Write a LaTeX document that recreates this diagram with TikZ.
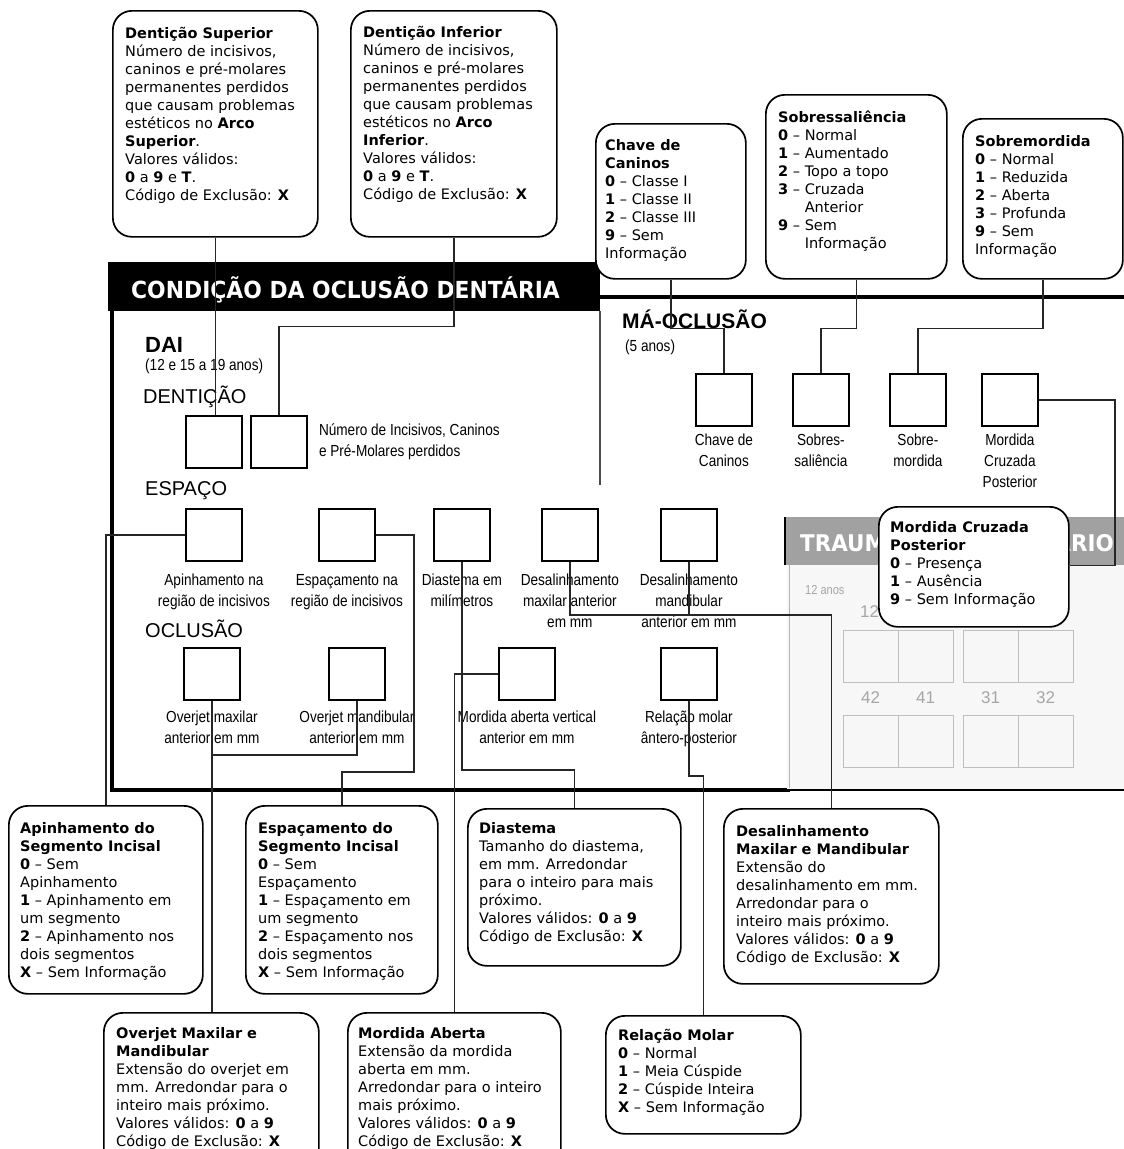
\documentclass[tikz,border=0pt]{standalone}
\usepackage{fontspec}
\setmainfont{DejaVu Sans}
\newfontfamily\arialfont{Liberation Sans}
\newfontfamily\narrowfont[FakeStretch=0.85]{Liberation Sans}
\newfontfamily\headfont[FakeStretch=0.93]{DejaVu Sans}
\usetikzlibrary{positioning}

\begin{document}
\begin{tikzpicture}[x=1pt, y=-1pt]
	\tikzstyle{infobox} = [draw=black, line width=1.7pt, rounded corners=19pt, fill=white, anchor=north west, inner sep=0pt]
	\tikzstyle{infotext} = [align=left, inner sep=0pt, font=\fontsize{14.5}{18}\selectfont]
	\tikzstyle{cell} = [draw=black, line width=1.8pt, fill=white, anchor=north west, minimum width=56pt, minimum height=52pt, inner sep=0pt]
	\tikzstyle{celltext} = [align=center, inner sep=0pt, font=\narrowfont\fontsize{16}{21}\selectfont]
	\tikzstyle{link} = [draw=black!85, line width=1.5pt]
	\tikzstyle{section} = [anchor=base west, inner sep=0pt, font=\arialfont\fontsize{20}{24}\selectfont]
	\tikzstyle{tooth} = [draw=black!25, line width=1.2pt, anchor=north west, minimum width=55pt, minimum height=52pt, inner sep=0pt]
	\tikzstyle{toothnum} = [anchor=base, inner sep=0pt, text=black!35, font=\arialfont\fontsize{17}{20}\selectfont]
	\tikzstyle{headtext} = [anchor=base west, inner sep=0pt, text=white, font=\headfont\bfseries\fontsize{23.5}{28}\selectfont]

	\useasboundingbox (0,0) rectangle (1124,1149);
	\clip (0,0) rectangle (1124,1149);

	% frame of the form
	\node[fill=black, anchor=north west, minimum width=492pt, minimum height=49pt, inner sep=0pt] (hbar) at (108,262) {};
	\node[headtext] (htitle) at (131,298) {CONDIÇÃO DA OCLUSÃO DENTÁRIA};
	\draw[line width=4.5pt] (112,311) -- (112,790) -- (790,790);
	\draw[line width=4pt] (600,297) -- (1124,297);
	\draw[black!70, line width=1.2pt] (600,311) -- (600,485);

	% traumatismo (behind)
	\fill[black!3] (787,565) rectangle (1124,790);
	\draw[black!30, line width=1pt] (789,565) -- (789,788);
	\draw[line width=1.5pt] (787,790) -- (1124,790);
	\node[fill=black!37, anchor=north west, minimum width=339pt, minimum height=48pt, inner sep=0pt] (tbar) at (785,517) {};
	\draw[line width=2.5pt] (tbar.north west) -- (tbar.south west);
	\node[headtext, font=\headfont\bfseries\fontsize{23}{28}\selectfont] (ttitle) at (800,551) {TRAUM};
	\node[headtext, font=\headfont\bfseries\fontsize{23}{28}\selectfont, anchor=base east] (ttitle2) at (1114,551) {ARIO};
	\node[anchor=base west, inner sep=0pt, text=black!35, font=\narrowfont\fontsize{13}{16}\selectfont] (tage) at (805,594) {12 anos};
	\node[toothnum, anchor=base west] (n12) at (860,617) {12};
	\foreach \tx/\tn in {843/42, 898/41, 963/31, 1018/32} {
		\node[tooth] (up\tn) at (\tx,630) {};
		\node[tooth] (lo\tn) at (\tx,715) {};
		\node[toothnum] (n\tn) at (\tx+27.5,703) {\tn};
	}

	% section titles
	\node[section, font=\arialfont\bfseries\fontsize{22}{26}\selectfont] (dai) at (145,352) {DAI};
	\node[section, font=\narrowfont\fontsize{16}{18}\selectfont] (daiage) at (145,370) {(12 e 15 a 19 anos)};
	\node[section] (dentt) at (143,403) {DENTIÇÃO};
	\node[section] (espt) at (145,495) {ESPAÇO};
	\node[section] (oclt) at (145,637) {OCLUSÃO};
	\node[section, font=\arialfont\bfseries\fontsize{21}{25}\selectfont] (mao) at (622,328) {MÁ-OCLUSÃO};
	\node[section, font=\narrowfont\fontsize{16}{18}\selectfont] (maoage) at (625,351) {(5 anos)};

	% answer cells
	\node[cell] (dent1) at (185,415) {};
	\node[cell] (dent2) at (250,415) {};
	\node[cell] (apic) at (185,508) {};
	\node[cell] (espc) at (318,508) {};
	\node[cell] (diac) at (433,508) {};
	\node[cell] (dmxc) at (541,508) {};
	\node[cell] (dmdc) at (660,508) {};
	\node[cell] (ovxc) at (183,647) {};
	\node[cell] (ovdc) at (328,647) {};
	\node[cell] (mabc) at (498,647) {};
	\node[cell] (molc) at (660,647) {};
	\node[cell] (chvc) at (695,373) {};
	\node[cell] (sbsc) at (792,373) {};
	\node[cell] (sbmc) at (889,373) {};
	\node[cell] (mcpc) at (981,373) {};

	\node[celltext, align=left, right=11pt of dent2] (dentl) {Número de  Incisivos, Caninos\\e Pré-Molares  perdidos};
	\node[celltext, below=12pt of apic] (apil) {Apinhamento na\\região de incisivos};
	\node[celltext, below=12pt of espc] (espl) {Espaçamento na\\região de incisivos};
	\node[celltext, below=12pt of diac] (dial) {Diastema em\\milímetros};
	\node[celltext, below=12pt of dmxc] (dmxl) {Desalinhamento\\maxilar anterior\\em mm};
	\node[celltext, below=12pt of dmdc] (dmdl) {Desalinhamento\\mandibular\\anterior em mm};
	\node[celltext, below=10pt of ovxc] (ovxl) {Overjet maxilar\\anterior em mm};
	\node[celltext, below=10pt of ovdc] (ovdl) {Overjet mandibular\\anterior em mm};
	\node[celltext, below=10pt of mabc] (mabl) {Mordida aberta vertical\\anterior em mm};
	\node[celltext, below=10pt of molc] (moll) {Relação molar\\ântero-posterior};
	\node[celltext, below=7pt of chvc] (chvl) {Chave de\\Caninos};
	\node[celltext, below=7pt of sbsc] (sbsl) {Sobres-\\saliência};
	\node[celltext, below=7pt of sbmc] (sbml) {Sobre-\\mordida};
	\node[celltext, below=7pt of mcpc] (mcpl) {Mordida\\Cruzada\\Posterior};

	% code boxes
	\node[infobox, minimum width=205pt, minimum height=226pt] (dsup) at (112,10) {};
	\node[infotext, below right=17pt and 13pt of dsup.north west] (dsuptx) {\textbf{Dentição Superior}\\Número de incisivos,\\caninos e pré-molares\\permanentes perdidos\\que causam problemas\\estéticos no \textbf{Arco}\\\textbf{Superior}.\\Valores válidos:\\\textbf{0} a \textbf{9} e \textbf{T}.\\Código de Exclusão: \textbf{X}};
	\node[infobox, minimum width=206pt, minimum height=226pt] (dinf) at (350,10) {};
	\node[infotext, below right=16pt and 13pt of dinf.north west] (dinftx) {\textbf{Dentição Inferior}\\Número de incisivos,\\caninos e pré-molares\\permanentes perdidos\\que causam problemas\\estéticos no \textbf{Arco}\\\textbf{Inferior}.\\Valores válidos:\\\textbf{0} a \textbf{9} e \textbf{T}.\\Código de Exclusão: \textbf{X}};
	\node[infobox, minimum width=150pt, minimum height=155pt] (chave) at (595,123) {};
	\node[infotext, below right=16pt and 10pt of chave.north west] (chavetx) {\textbf{Chave de}\\\textbf{Caninos}\\\textbf{0} – Classe I\\\textbf{1} – Classe II\\\textbf{2} – Classe III\\\textbf{9} – Sem\\Informação};
	\node[infobox, minimum width=181pt, minimum height=184pt] (sobress) at (765,94) {};
	\node[infotext, below right=17pt and 13pt of sobress.north west] (sobresstx) {\textbf{Sobressaliência}\\\textbf{0} – Normal\\\textbf{1} – Aumentado\\\textbf{2} – Topo a topo\\\textbf{3} – Cruzada\\\phantom{\textbf{3} – }Anterior\\\textbf{9} – Sem\\\phantom{\textbf{9} – }Informação};
	\node[infobox, minimum width=160pt, minimum height=160pt] (sobrem) at (962,118) {};
	\node[infotext, below right=17pt and 13pt of sobrem.north west] (sobremtx) {\textbf{Sobremordida}\\\textbf{0} – Normal\\\textbf{1} – Reduzida\\\textbf{2} – Aberta\\\textbf{3} – Profunda\\\textbf{9} – Sem\\Informação};
	\node[infobox, minimum width=190pt, minimum height=120pt] (mcp) at (878,506) {};
	\node[infotext, below right=15pt and 12pt of mcp.north west] (mcptx) {\textbf{Mordida Cruzada}\\\textbf{Posterior}\\\textbf{0} – Presença\\\textbf{1} – Ausência\\\textbf{9} – Sem Informação};
	\node[infobox, minimum width=194pt, minimum height=188pt] (apin) at (8,805) {};
	\node[infotext, below right=17pt and 12pt of apin.north west] (apintx) {\textbf{Apinhamento do}\\\textbf{Segmento Incisal}\\\textbf{0} – Sem\\Apinhamento\\\textbf{1} – Apinhamento em\\um segmento\\\textbf{2} – Apinhamento nos\\dois segmentos\\\textbf{X} – Sem Informação};
	\node[infobox, minimum width=192pt, minimum height=188pt] (espac) at (245,805) {};
	\node[infotext, below right=17pt and 13pt of espac.north west] (espactx) {\textbf{Espaçamento do}\\\textbf{Segmento Incisal}\\\textbf{0} – Sem\\Espaçamento\\\textbf{1} – Espaçamento em\\um segmento\\\textbf{2} – Espaçamento nos\\dois segmentos\\\textbf{X} – Sem Informação};
	\node[infobox, minimum width=213pt, minimum height=157pt] (diast) at (467,808) {};
	\node[infotext, below right=14pt and 12pt of diast.north west] (diasttx) {\textbf{Diastema}\\Tamanho do diastema,\\em mm. Arredondar\\para o inteiro  para mais\\próximo.\\Valores válidos: \textbf{0} a \textbf{9}\\Código de Exclusão: \textbf{X}};
	\node[infobox, minimum width=215pt, minimum height=175pt] (desal) at (723,808) {};
	\node[infotext, below right=17pt and 13pt of desal.north west] (desaltx) {\textbf{Desalinhamento}\\\textbf{Maxilar e Mandibular}\\Extensão do\\desalinhamento em mm.\\Arredondar para o\\inteiro mais próximo.\\Valores válidos: \textbf{0} a \textbf{9}\\Código de Exclusão: \textbf{X}};
	\node[infobox, minimum width=215pt, minimum height=160pt] (overj) at (103,1012) {};
	\node[infotext, below right=15pt and 13pt of overj.north west] (overjtx) {\textbf{Overjet Maxilar e}\\\textbf{Mandibular}\\Extensão do overjet em\\mm. Arredondar para o\\inteiro mais próximo.\\Valores válidos: \textbf{0} a \textbf{9}\\Código de Exclusão: \textbf{X}};
	\node[infobox, minimum width=213pt, minimum height=160pt] (morab) at (347,1012) {};
	\node[infotext, below right=15pt and 11pt of morab.north west] (morabtx) {\textbf{Mordida Aberta}\\Extensão da mordida\\aberta em mm.\\Arredondar para o inteiro\\mais próximo.\\Valores válidos: \textbf{0} a \textbf{9}\\Código de Exclusão: \textbf{X}};
	\node[infobox, minimum width=195pt, minimum height=118pt] (molar) at (605,1015) {};
	\node[infotext, below right=14pt and 13pt of molar.north west] (molartx) {\textbf{Relação Molar}\\\textbf{0} – Normal\\\textbf{1} – Meia Cúspide\\\textbf{2} – Cúspide Inteira\\\textbf{X} – Sem Informação};

	% connectors
	\draw[link] (dsup.south) -- (dsup.south |- dent1.north);
	\draw[link] (dinf.south) -- ++(0,89) -| (dent2.north);
	\draw[link] (chave.south) -- ++(0,49) -| (chvc.north);
	\draw[link] (sobress.south) -- ++(0,49) -| (sbsc.north);
	\draw[link] (sobrem.south) -- ++(0,49) -| (sbmc.north);
	\draw[link] (mcpc.east) -- ++(76,0) |- (mcp.east |- tbar.south);
	\draw[link] (apic.west) -| (apin.north);
	\draw[link] (espc.east) -- ++(38,0) -- ++(0,237) -| (espac.north);
	\draw[link] (diac.south) -- ++(0,208) -| (diast.north);
	\draw[link] (dmxc.south) -- ++(0,53) -| (desal.north);
	\draw[link] (dmdc.south) -- ++(0,53);
	\draw[link] (ovxc.south) -- (ovxc.south |- overj.north);
	\draw[link] (ovdc.south) -- ++(0,54) -| (ovxc.south);
	\draw[link] (mabc.west) -| (morab.north);
	\draw[link] (molc.south) -- ++(0,75) -| (molar.north);
\end{tikzpicture}
\end{document}
